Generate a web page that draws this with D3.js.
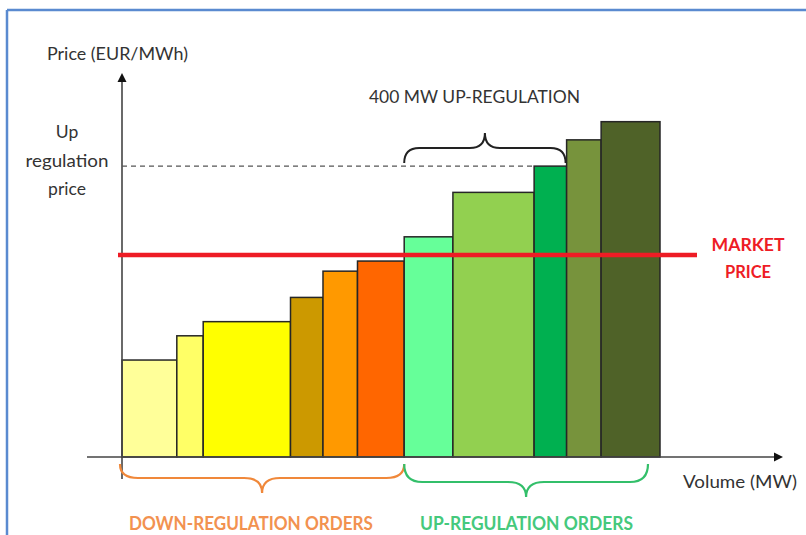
<!DOCTYPE html>
<html>
<head>
<meta charset="utf-8">
<script src="https://cdn.jsdelivr.net/npm/d3@7"></script>
<style>
  html, body { margin: 0; padding: 0; background: #ffffff; }
  svg { display: block; }
  text { font-family: Lato, "Liberation Sans", sans-serif; }
</style>
</head>
<body>
<svg id="chart" width="806" height="535"></svg>
<script>
// Balancing market merit order: regulation bids sorted by price
const orderVolumes = [135, 65, 215, 80, 85, 115, 120, 200, 80, 85, 145];      // MW
const orderPrices  = [24, 30, 33.5, 39.5, 46, 48.5, 54.5, 65.5, 72, 78.5, 83]; // EUR/MWh
const orderSides   = ["down", "down", "down", "down", "down", "down", "up", "up", "up", "up", "up"];
const orderColors  = ["#ffff99", "#ffff66", "#ffff00", "#cc9900", "#ff9900", "#ff6600",
                      "#66ff99", "#92d050", "#00b050", "#77933c", "#4f6228"];
const marketPrice = 50;           // EUR/MWh
const upRegulationVolume = 400;   // MW activated

const yAxisTitle = "Price (EUR/MWh)";
const xAxisTitle = "Volume (MW)";
const upPriceLabel = ["Up", "regulation", "price"];
const marketLabel = ["MARKET", "PRICE"];
const activationLabel = "400 MW UP-REGULATION";
const downGroupLabel = "DOWN-REGULATION ORDERS";
const upGroupLabel = "UP-REGULATION ORDERS";

const svg = d3.select("#chart");

// frame lines along the top and left edge
svg.append("line").attr("x1", 7).attr("y1", 10).attr("x2", 806).attr("y2", 10)
  .attr("stroke", "#5a8ad0").attr("stroke-width", 2.5);
svg.append("line").attr("x1", 7).attr("y1", 10).attr("x2", 7).attr("y2", 535)
  .attr("stroke", "#5a8ad0").attr("stroke-width", 2.5);

// cumulative volume at the start of each order
const starts = [0, ...d3.cumsum(orderVolumes)];
const totalVolume = starts[starts.length - 1];

const x = d3.scaleLinear().domain([0, totalVolume]).range([122, 660]);
const y = d3.scaleLinear().domain([0, marketPrice]).range([457, 255]);

const orders = orderVolumes.map((v, i) => ({
  x0: starts[i], x1: starts[i + 1], price: orderPrices[i], side: orderSides[i], color: orderColors[i]
}));

// bars
svg.append("g").selectAll("rect").data(orders).join("rect")
  .attr("x", d => x(d.x0))
  .attr("y", d => y(d.price))
  .attr("width", d => x(d.x1) - x(d.x0))
  .attr("height", d => y(0) - y(d.price))
  .attr("fill", d => d.color)
  .attr("stroke", "#262626")
  .attr("stroke-width", 1.5);

// axes with arrow heads
const axisColor = "#444";
const axes = svg.append("g");
axes.append("line").attr("x1", 87).attr("y1", y(0)).attr("x2", 778).attr("y2", y(0))
  .attr("stroke", axisColor).attr("stroke-width", 1.6);
axes.append("path")
  .attr("d", `M783,${y(0)} L774,${y(0) - 4.5} L774,${y(0) + 4.5} Z`)
  .attr("fill", "#111");
axes.append("line").attr("x1", x(0)).attr("y1", 479).attr("x2", x(0)).attr("y2", 78)
  .attr("stroke", axisColor).attr("stroke-width", 1.6);
axes.append("path")
  .attr("d", `M${x(0)},73 L${x(0) - 4.5},82 L${x(0) + 4.5},82 Z`)
  .attr("fill", "#111");

// order that completes the activated up-regulation volume
let upCum = 0, marginal = null;
orders.forEach(o => {
  if (o.side === "up" && marginal === null) {
    upCum += o.x1 - o.x0;
    if (upCum >= upRegulationVolume) marginal = o;
  }
});
const firstUp = orders.find(o => o.side === "up");

// dashed up-regulation price level
svg.append("line")
  .attr("x1", x(0)).attr("y1", y(marginal.price))
  .attr("x2", x(marginal.x0)).attr("y2", y(marginal.price))
  .attr("stroke", "#555").attr("stroke-width", 1.2)
  .attr("stroke-dasharray", "5,4");

// market price line
svg.append("line")
  .attr("x1", 118).attr("y1", y(marketPrice))
  .attr("x2", 697).attr("y2", y(marketPrice))
  .attr("stroke", "#ee1c25").attr("stroke-width", 4.5);

// curly brace: ends at yEnd, long arms at yArm, point at yTip
function brace(x1, x2, yEnd, yArm, yTip, r) {
  const xm = (x1 + x2) / 2;
  return `M${x1},${yEnd} Q${x1},${yArm} ${x1 + r},${yArm} L${xm - r},${yArm} ` +
         `Q${xm},${yArm} ${xm},${yTip} Q${xm},${yArm} ${xm + r},${yArm} ` +
         `L${x2 - r},${yArm} Q${x2},${yArm} ${x2},${yEnd}`;
}

const splitX = x(firstUp.x0);
svg.append("path")
  .attr("d", brace(splitX, x(marginal.x1) - 1, y(marginal.price) - 3, 148, 133, 15))
  .attr("fill", "none").attr("stroke", "#222").attr("stroke-width", 2);
svg.append("path")
  .attr("d", brace(x(0) - 2, splitX, 464, 478, 493, 18))
  .attr("fill", "none").attr("stroke", "#f0883a").attr("stroke-width", 2.2);
svg.append("path")
  .attr("d", brace(splitX, x(totalVolume) - 12, 464, 482, 497, 18))
  .attr("fill", "none").attr("stroke", "#33bf6a").attr("stroke-width", 2.2);

// text
function label(txt, tx, ty, opts) {
  const t = svg.append("text").attr("x", tx).attr("y", ty).text(txt)
    .attr("font-size", opts.size).attr("fill", opts.color)
    .attr("text-anchor", opts.anchor || "start")
    .attr("font-weight", opts.weight || "normal");
  if (opts.len) t.attr("textLength", opts.len).attr("lengthAdjust", "spacingAndGlyphs");
  return t;
}

label(yAxisTitle, 47, 60, { size: 17.5, color: "#333", len: 141 });
label(xAxisTitle, 683, 488, { size: 17.5, color: "#333", len: 114 });
const upY = y(marginal.price) + 1;
label(upPriceLabel[0], 67, upY - 29, { size: 17.5, color: "#333", anchor: "middle" });
label(upPriceLabel[1], 67, upY, { size: 17.5, color: "#333", anchor: "middle", len: 83 });
label(upPriceLabel[2], 67, upY + 28, { size: 17.5, color: "#333", anchor: "middle" });
label(activationLabel, 369, 103, { size: 17, color: "#333", len: 211 });
label(marketLabel[0], 748, y(marketPrice) - 4, { size: 16.5, color: "#ee1c25", anchor: "middle", weight: "bold", len: 73 });
label(marketLabel[1], 748, y(marketPrice) + 23, { size: 16.5, color: "#ee1c25", anchor: "middle", weight: "bold" });
label(downGroupLabel, 129, 530, { size: 18.5, color: "#f29250", weight: "bold", len: 244 });
label(upGroupLabel, 420, 530, { size: 18.5, color: "#45c97c", weight: "bold", len: 213 });
</script>
</body>
</html>
